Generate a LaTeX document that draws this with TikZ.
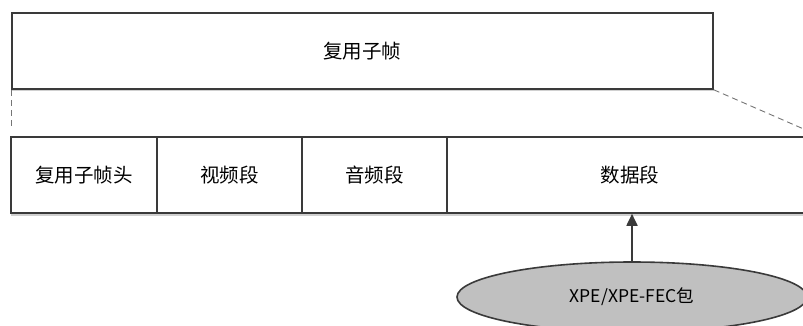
\documentclass[tikz,border=0pt]{standalone}
\usepackage{fontspec}
\setmainfont{Noto Sans CJK SC}
\usetikzlibrary{arrows.meta,shapes.geometric}
\definecolor{edge}{HTML}{3A3A3A}
\definecolor{shade}{HTML}{D0D0D0}
\definecolor{ellfill}{HTML}{C0C0C0}
\tikzset{
  cell/.style={draw=edge, line width=1.8pt, fill=white, minimum height=76pt, inner sep=0pt, font=\fontsize{19.5}{22}\selectfont},
  shadowline/.style={draw=shade, line width=2pt},
  guide/.style={draw=edge!70, line width=0.9pt, dash pattern=on 6pt off 4pt},
  link/.style={draw=edge, line width=1.8pt, -{Triangle[length=12pt,width=11pt]}},
  packet/.style={ellipse, draw=edge, line width=1.6pt, fill=ellfill, minimum width=350pt, minimum height=70pt, inner sep=0pt, font=\fontsize{17.5}{20}\selectfont}
}
\begin{document}
\begin{tikzpicture}[x=1pt,y=-1pt]
\useasboundingbox (0,0) rectangle (803,325);
% shadows
\draw[shadowline] (12,89.5) -- (714,89.5);
\draw[shadowline] (11,214.5) -- (820,214.5);
% top box
\node[cell, minimum width=701pt, anchor=north west] (frame) at (11,12) {复用子帧};
% bottom row
\node[cell, minimum width=146pt, anchor=north west] (hdr) at (10,136) {复用子帧头};
\node[cell, minimum width=145pt, anchor=north west] (vid) at (156,136) {视频段};
\node[cell, minimum width=145pt, anchor=north west] (aud) at (301,136) {音频段};
\node[cell, minimum width=374pt, anchor=north west] (dat) at (446,136) {\hspace*{-8pt}数据段};
% guides
\coordinate (gl) at (11,127);
\coordinate (gr) at (822,137);
\draw[guide] (frame.south west) -- (gl);
\draw[guide] (frame.south east) -- (gr);
% packet
\node[packet] (pkt) at (632,297) {XPE/XPE-FEC包};
\draw[link] (pkt.north) -- (pkt.north |- dat.south);
\end{tikzpicture}
\end{document}
